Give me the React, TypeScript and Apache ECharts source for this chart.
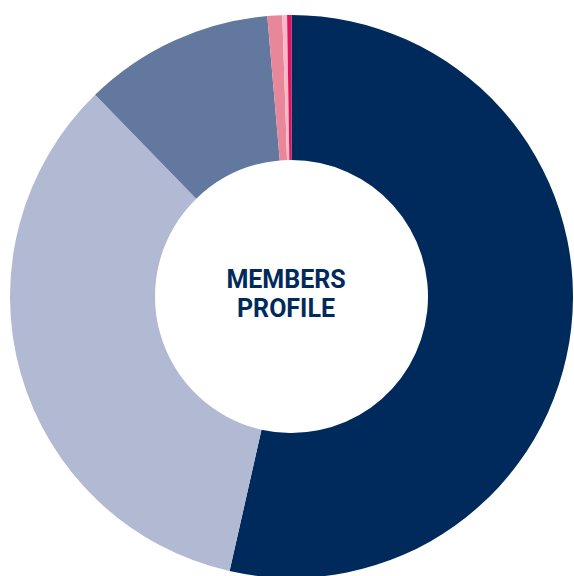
import React, { useEffect, useRef } from "react";
import * as echarts from "echarts";

const categories = ["Navy", "Lavender", "Slate", "Pink", "Light pink", "Hot pink"];
const values = [53.53, 34.18, 10.92, 0.85, 0.27, 0.25];
const colors = ["#002a5c", "#b1b9d3", "#63789f", "#e8879a", "#f5b9c7", "#e2115d"];
const centerLines = ["MEMBERS", "PROFILE"];

export default function App() {
  const ref = useRef<HTMLDivElement>(null);
  useEffect(() => {
    document.body.style.margin = "0";
    const chart = echarts.init(ref.current!, null, { renderer: "svg" });
    chart.setOption({
      animation: false,
      backgroundColor: "#ffffff",
      series: [
        {
          type: "pie",
          center: [291.5, 296.5],
          radius: [136.5, 281.5],
          startAngle: 90,
          clockwise: true,
          label: { show: false },
          labelLine: { show: false },
          silent: true,
          itemStyle: { borderWidth: 0 },
          data: categories.map((name, i) => ({
            name,
            value: values[i],
            itemStyle: { color: colors[i] },
          })),
        },
      ],
      graphic: [
        {
          type: "text",
          x: 286,
          y: 294,
          style: {
            text: centerLines.join("\n"),
            fill: "#002a5c",
            font: "bold 25px Roboto",
            align: "center",
            verticalAlign: "middle",
            lineHeight: 29,
          },
        },
      ],
    });
    return () => chart.dispose();
  }, []);
  return (
    <div
      ref={ref}
      style={{ position: "absolute", left: 0, top: 0, width: 574, height: 576 }}
    />
  );
}
